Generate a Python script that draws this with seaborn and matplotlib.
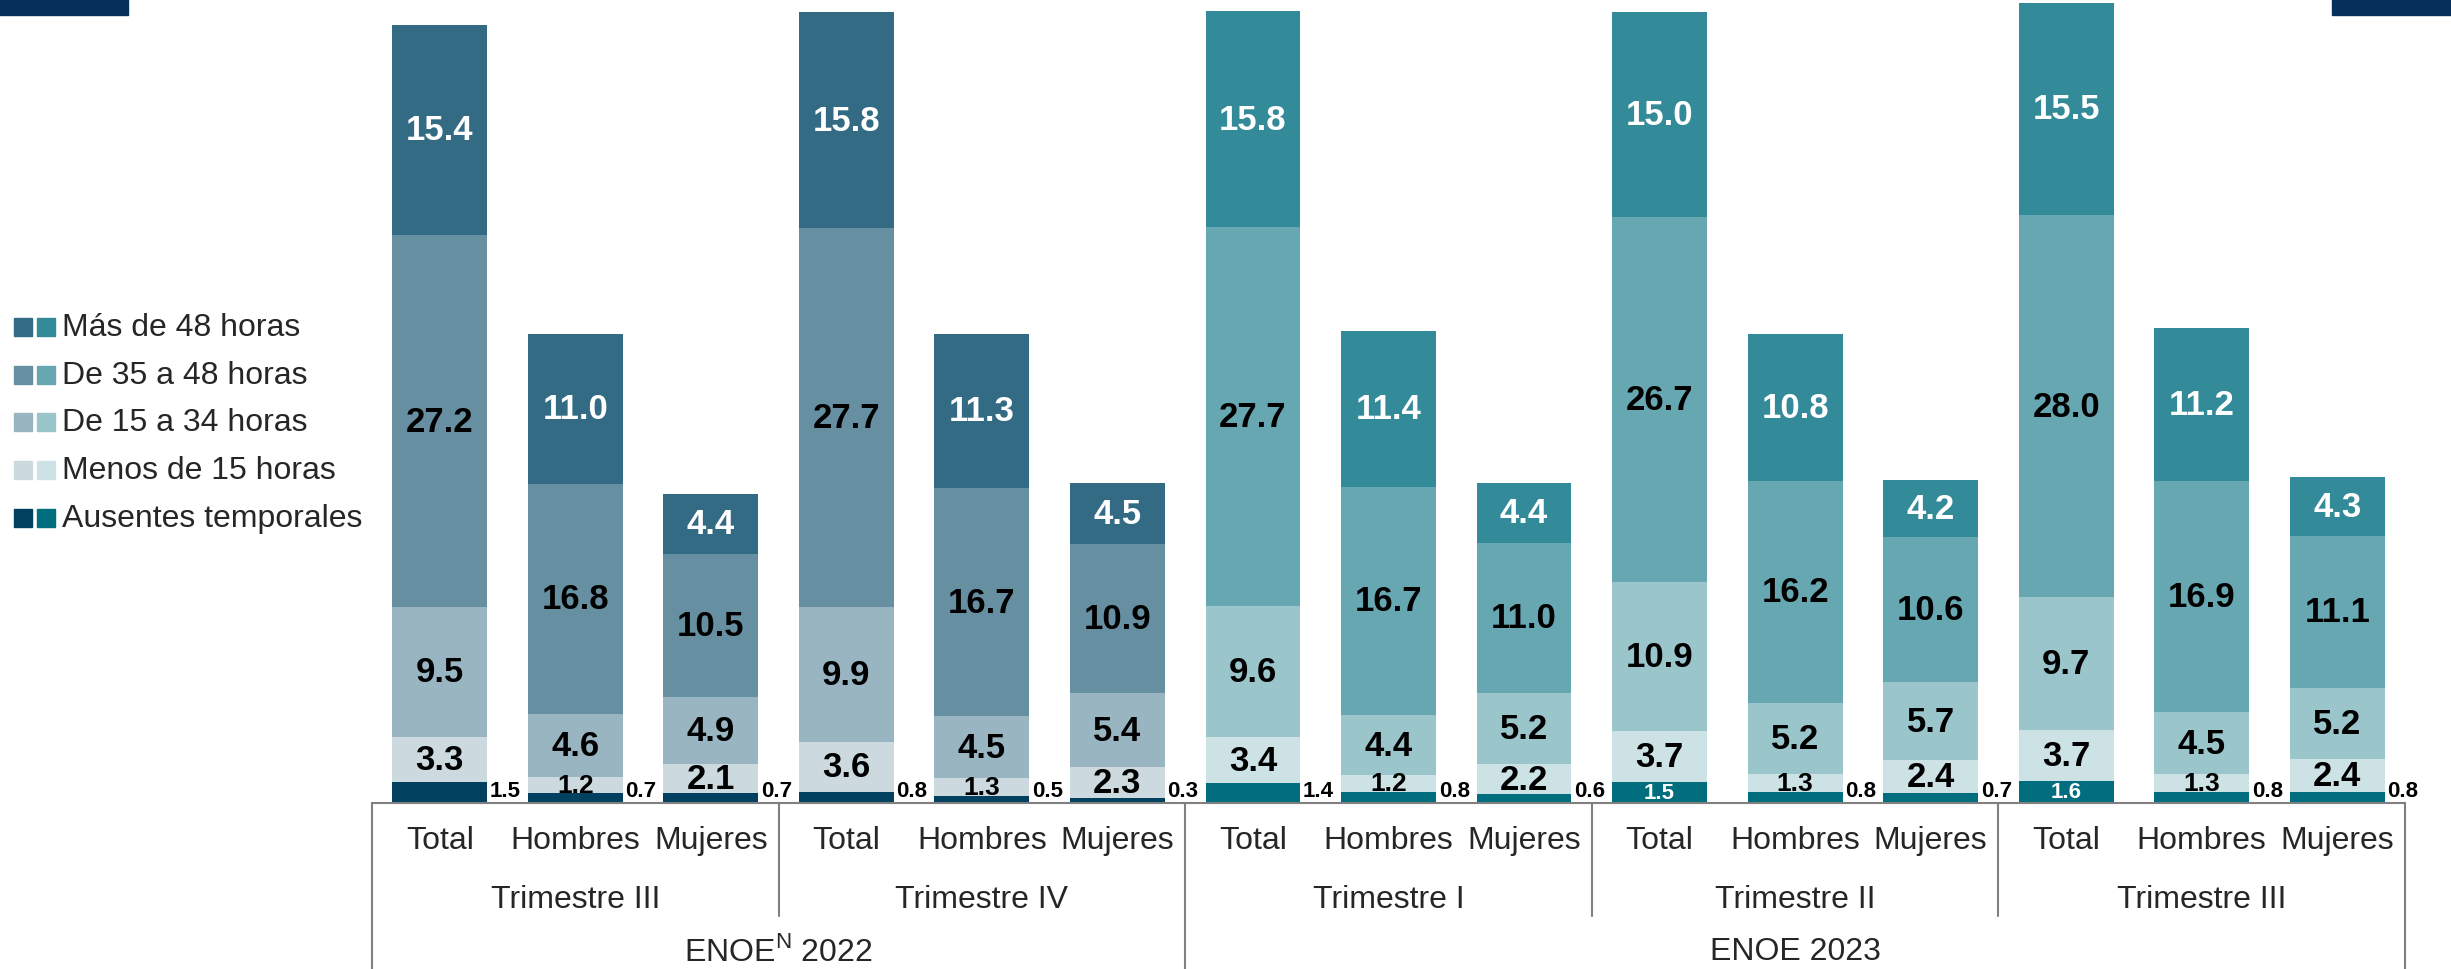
import matplotlib

matplotlib.use("Agg")

import numpy as np
import pandas as pd
import seaborn as sns
import matplotlib.pyplot as plt

from matplotlib import transforms
from matplotlib.lines import Line2D
from matplotlib.patches import Rectangle

# data, bottom series first
YEARS = ["ENOE$^{\\mathrm{N}}$ 2022", "ENOE 2023"]
QUARTERS = ["Trimestre III", "Trimestre IV", "Trimestre I", "Trimestre II", "Trimestre III"]
GROUPS = ["Total", "Hombres", "Mujeres"]
SERIES = [
    "Ausentes temporales",
    "Menos de 15 horas",
    "De 15 a 34 horas",
    "De 35 a 48 horas",
    "Más de 48 horas",
]

ausentes = [1.5, 0.7, 0.7, 0.8, 0.5, 0.3, 1.4, 0.8, 0.6, 1.5, 0.8, 0.7, 1.6, 0.8, 0.8]
menos_15 = [3.3, 1.2, 2.1, 3.6, 1.3, 2.3, 3.4, 1.2, 2.2, 3.7, 1.3, 2.4, 3.7, 1.3, 2.4]
de_15_34 = [9.5, 4.6, 4.9, 9.9, 4.5, 5.4, 9.6, 4.4, 5.2, 10.9, 5.2, 5.7, 9.7, 4.5, 5.2]
de_35_48 = [27.2, 16.8, 10.5, 27.7, 16.7, 10.9, 27.7, 16.7, 11.0, 26.7, 16.2, 10.6, 28.0, 16.9, 11.1]
mas_48 = [15.4, 11.0, 4.4, 15.8, 11.3, 4.5, 15.8, 11.4, 4.4, 15.0, 10.8, 4.2, 15.5, 11.2, 4.3]

COLORS_2022 = ["#02405f", "#ccdae0", "#99b5c1", "#668fa1", "#336b84"]
COLORS_2023 = ["#006e7e", "#cce2e5", "#99c5cb", "#66a7b1", "#338a98"]
INSIDE_AUSENTES = [9, 12]  # bars whose ausentes label sits inside in white

W, H = 2451, 970
sns.set_style("white")
plt.rcParams["font.family"] = ["Liberation Sans", "DejaVu Sans"]
plt.rcParams["mathtext.fontset"] = "custom"
plt.rcParams["mathtext.rm"] = "Liberation Sans"

values = np.array([ausentes, menos_15, de_15_34, de_35_48, mas_48])
cum = np.cumsum(values, axis=0)
n_bars = values.shape[1]
bar_ids = [f"{q}-{g}" for q in range(len(QUARTERS)) for g in GROUPS]
year_of_bar = [0 if i < 6 else 1 for i in range(n_bars)]

fig = plt.figure(figsize=(W / 100, H / 100), dpi=100)
ax_bottom = 1 - 803.5 / H
ax = fig.add_axes([372 / W, ax_bottom, 2033 / W, 1 - ax_bottom])

# stacked bars: draw cumulative totals from the top series down
for j in reversed(range(len(SERIES))):
    df = pd.DataFrame({"bar": bar_ids, "value": cum[j]})
    pal = {
        b: (COLORS_2022 if year_of_bar[i] == 0 else COLORS_2023)[j]
        for i, b in enumerate(bar_ids)
    }
    sns.barplot(
        data=df, x="bar", y="value", hue="bar", palette=pal, legend=False,
        order=bar_ids, width=0.7, saturation=1, linewidth=0, errorbar=None, ax=ax,
    )

# value labels
for i in range(n_bars):
    for j in range(len(SERIES)):
        v = values[j, i]
        lo = cum[j, i] - v
        mid = lo + v / 2
        txt = f"{v:.1f}"
        if j == 0:
            if i in INSIDE_AUSENTES:
                ax.text(i, mid, txt, ha="center", va="center", color="white",
                        fontsize=16, fontweight="bold")
            else:
                ax.text(i + 0.37, 0.1, txt, ha="left", va="bottom", color="black",
                        fontsize=16, fontweight="bold")
        elif j == 1:
            fs = 19 if v < 1.5 else 25
            ax.text(i, mid, txt, ha="center", va="center", color="black",
                    fontsize=fs, fontweight="bold")
        else:
            ax.text(i, mid, txt, ha="center", va="center",
                    color="white" if j == 4 else "black",
                    fontsize=25, fontweight="bold")

ax.set_xlim(-0.5, n_bars - 0.5)
ax.set_ylim(0, 803.5 / 13.67)
ax.set_xticks([])
ax.set_yticks([])
ax.set_xlabel("")
ax.set_ylabel("")
for side in ["top", "left", "right"]:
    ax.spines[side].set_visible(False)
ax.spines["bottom"].set_color("#808080")
ax.spines["bottom"].set_linewidth(1.5)

# hierarchical category axis
tr = transforms.blended_transform_factory(ax.transData, fig.transFigure)
line_color = "#808080"
for i in range(n_bars):
    ax.text(i, 1 - 841 / H, GROUPS[i % 3], transform=tr, ha="center", va="center",
            fontsize=23)
for k, q in enumerate(QUARTERS):
    ax.text(3 * k + 1, 1 - 900 / H, q, transform=tr, ha="center", va="center",
            fontsize=23)
ax.text(2.5, 1 - 952 / H, YEARS[0], transform=tr, ha="center", va="center", fontsize=23)
ax.text(10, 1 - 952 / H, YEARS[1], transform=tr, ha="center", va="center", fontsize=23)

for x in [-0.5, 5.5, 14.5]:
    ax.add_line(Line2D([x, x], [ax_bottom, 0], transform=tr, color=line_color,
                       lw=1.5, clip_on=False))
for x in [2.5, 8.5, 11.5]:
    ax.add_line(Line2D([x, x], [ax_bottom, 1 - 917 / H], transform=tr,
                       color=line_color, lw=1.5, clip_on=False))

# legend with paired swatches (2022 / 2023)
rows_y = [328, 376, 423, 471, 519]
legend_order = [4, 3, 2, 1, 0]
for r, j in zip(rows_y, legend_order):
    for x0, cols in [(14, COLORS_2022), (37, COLORS_2023)]:
        fig.patches.append(Rectangle((x0 / W, 1 - (r + 9) / H), 18 / W, 18 / H,
                                     transform=fig.transFigure, color=cols[j]))
    fig.text(62 / W, 1 - r / H, SERIES[j], ha="left", va="center", fontsize=23)

# header bars in the corners
for x0, x1 in [(0, 128), (2332, W)]:
    fig.patches.append(Rectangle((x0 / W, 1 - 16 / H), (x1 - x0) / W, 16 / H,
                                 transform=fig.transFigure, color="#06305a"))

fig.savefig("out.png", dpi=100)
